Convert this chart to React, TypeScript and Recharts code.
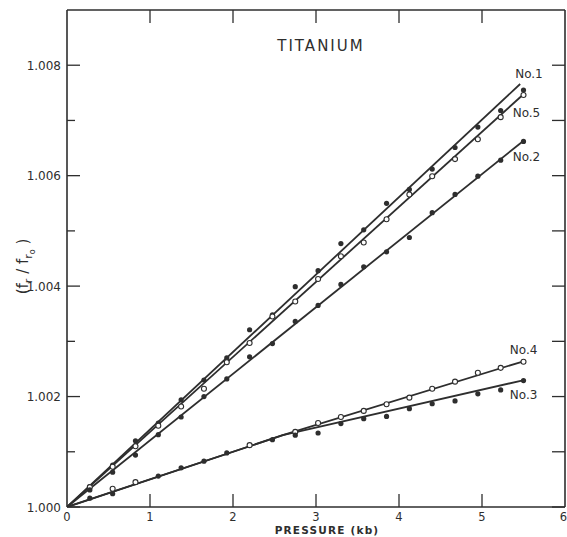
import React from 'react'
import { ComposedChart, Line, Scatter, XAxis, YAxis, LabelList } from 'recharts'

// pressure (kb) at which readings were taken
const pressure = [
  0.275, 0.55, 0.825, 1.1, 1.375, 1.65, 1.925, 2.2, 2.475, 2.75,
  3.025, 3.3, 3.575, 3.85, 4.125, 4.4, 4.675, 4.95, 5.225, 5.5,
]

// measured fr/fr0 for each specimen (null = no point drawn)
const no1Pts = [
  1.00037, 1.00076, 1.0012, 1.00152, 1.00194, 1.0023, 1.0027, 1.00321, 1.00348, 1.00399,
  1.00428, 1.00477, 1.00502, 1.0055, 1.00575, 1.00612, 1.00651, 1.00688, 1.00718, 1.00755,
]
const no5Pts = [
  1.00036, 1.00073, 1.0011, 1.00147, 1.00182, 1.00214, 1.00262, 1.00297, 1.00345, 1.00372,
  1.00413, 1.00454, 1.00479, 1.00521, 1.00566, 1.00599, 1.0063, 1.00666, 1.00706, 1.00746,
]
const no2Pts = [
  1.00031, 1.00063, 1.00094, 1.00131, 1.00163, 1.002, 1.00232, 1.00272, 1.00296, 1.00336,
  1.00365, 1.00403, 1.00435, 1.00462, 1.00488, 1.00533, 1.00566, 1.00599, 1.00628, 1.00662,
]
const no4Pts = [
  null, 1.00033, 1.00045, null, null, null, null, 1.00112, null, 1.00136,
  1.00152, 1.00163, 1.00174, 1.00186, 1.00198, 1.00214, 1.00227, 1.00243, 1.00252, 1.00263,
]
const no3Pts = [
  1.00016, 1.00024, null, 1.00056, 1.00071, 1.00083, 1.00098, null, 1.00122, 1.0013,
  1.00134, 1.00151, 1.0016, 1.00164, 1.00178, 1.00187, 1.00192, 1.00205, 1.00212, 1.00229,
]

// fitted lines
const no1Fit = [{ x: 0, y: 1.0 }, { x: 5.46, y: 1.00766 }]
const no5Fit = [{ x: 0, y: 1.0 }, { x: 5.49, y: 1.00746 }]
const no2Fit = [{ x: 0, y: 1.0 }, { x: 5.49, y: 1.00662 }]
const no4Fit = [{ x: 0, y: 1.0 }, { x: 2.6, y: 1.0013 }, { x: 5.48, y: 1.00263 }]
const no3Fit = [{ x: 0, y: 1.0 }, { x: 2.6, y: 1.0013 }, { x: 5.48, y: 1.00229 }]

const xTicks = [0, 1, 2, 3, 4, 5, 6]
const yTicks = [1.0, 1.001, 1.002, 1.003, 1.004, 1.005, 1.006, 1.007, 1.008]

const INK = '#2e2e2e'
const FONT = '"DejaVu Sans", sans-serif'

const toPoints = (vals: (number | null)[]) =>
  pressure.map((x, i) => ({ x, y: vals[i] })).filter(p => p.y !== null)

const FilledDot = (props: any) => <circle cx={props.cx} cy={props.cy} r={2.6} fill={INK} />
const OpenDot = (props: any) => (
  <circle cx={props.cx} cy={props.cy} r={2.5} fill="#fff" stroke={INK} strokeWidth={1.1} />
)

const isMajor = (v: number) => Math.round(v * 1000) % 2 === 0

const LeftTick = (props: any) => {
  const { x, y, payload } = props
  const v = payload.value
  return (
    <g>
      <line x1={x} y1={y} x2={x + (isMajor(v) ? 13 : 8)} y2={y} stroke={INK} strokeWidth={1.3} />
      {isMajor(v) && (
        <text x={x - 6} y={y + 4.5} textAnchor="end" fontSize={12} fontFamily={FONT} fill={INK}>
          {v.toFixed(3)}
        </text>
      )}
    </g>
  )
}

const RightTick = (props: any) => {
  const { x, y } = props
  return <line x1={x} y1={y} x2={x - 13} y2={y} stroke={INK} strokeWidth={1.3} />
}

const BottomTick = (props: any) => {
  const { x, y, payload } = props
  const v = payload.value
  const atEdge = v === 6
  return (
    <g>
      {v > 0 && v < 6 && <line x1={x} y1={y} x2={x} y2={y - 13} stroke={INK} strokeWidth={1.3} />}
      <text
        x={atEdge ? x + 2 : x}
        y={y + 14}
        textAnchor={atEdge ? 'end' : 'middle'}
        fontSize={11.5}
        fontFamily={FONT}
        fill={INK}
      >
        {v}
      </text>
    </g>
  )
}

const TopTick = (props: any) => {
  const { x, y, payload } = props
  const v = payload.value
  if (v <= 0 || v >= 6) return null
  return <line x1={x} y1={y} x2={x} y2={y + 13} stroke={INK} strokeWidth={1.3} />
}

const YLabel = (props: any) => {
  const { viewBox } = props
  const cx = viewBox.x + 28
  const cy = viewBox.y + viewBox.height / 2 + 8
  return (
    <text
      x={cx}
      y={cy}
      transform={`rotate(-90 ${cx} ${cy})`}
      textAnchor="middle"
      fontSize={15}
      fontFamily={FONT}
      fill={INK}
    >
      (f
      <tspan fontSize={11} dy={4}>r</tspan>
      <tspan dy={-4}> / f</tspan>
      <tspan fontSize={11} dy={4}>r</tspan>
      <tspan fontSize={8} dy={3}>o</tspan>
      <tspan dy={-7}> )</tspan>
    </text>
  )
}

const XLabel = (props: any) => {
  const { viewBox } = props
  return (
    <text
      x={viewBox.x + viewBox.width / 2 + 11}
      y={534}
      textAnchor="middle"
      fontSize={10.5}
      fontWeight="bold"
      letterSpacing={1.2}
      fontFamily={FONT}
      fill={INK}
    >
      PRESSURE (kb)
    </text>
  )
}

const Title = (props: any) => {
  const { viewBox } = props
  return (
    <text
      x={viewBox.x + viewBox.width / 2 + 5}
      y={viewBox.y + 42}
      textAnchor="middle"
      fontSize={15}
      letterSpacing={2}
      fontFamily={FONT}
      fill={INK}
    >
      TITANIUM
    </text>
  )
}

const endLabel = (name: string, last: number, dx: number, dy: number) => (props: any) => {
  if (props.index !== last) return null
  return (
    <text x={props.x + dx} y={props.y + dy} fontSize={12} fontFamily={FONT} fill={INK}>
      {name}
    </text>
  )
}

export default function App() {
  const lineProps = {
    type: 'linear' as const,
    dataKey: 'y',
    stroke: INK,
    strokeWidth: 1.8,
    dot: false,
    activeDot: false,
    isAnimationActive: false,
  }
  return (
    <div style={{ position: 'absolute', left: 0, top: 0, background: '#fff' }}>
      <ComposedChart width={567} height={537} margin={{ top: 9, right: 1, bottom: 0, left: 0 }}>
        <XAxis
          dataKey="x"
          type="number"
          domain={[0, 6]}
          ticks={xTicks}
          interval={0}
          allowDataOverflow
          height={30}
          tickSize={0}
          tickMargin={0}
          tickLine={false}
          axisLine={{ stroke: INK, strokeWidth: 1.6 }}
          tick={<BottomTick />}
          label={<XLabel />}
        />
        <XAxis
          xAxisId="top"
          dataKey="x"
          orientation="top"
          type="number"
          domain={[0, 6]}
          ticks={xTicks}
          interval={0}
          allowDataOverflow
          height={1}
          tickSize={0}
          tickMargin={0}
          tickLine={false}
          axisLine={{ stroke: INK, strokeWidth: 1.6 }}
          tick={<TopTick />}
          label={<Title />}
        />
        <YAxis
          dataKey="y"
          type="number"
          domain={[1.0, 1.009]}
          ticks={yTicks}
          interval={0}
          allowDataOverflow
          width={67}
          tickSize={0}
          tickMargin={0}
          tickLine={false}
          axisLine={{ stroke: INK, strokeWidth: 1.6 }}
          tick={<LeftTick />}
          label={<YLabel />}
        />
        <YAxis
          yAxisId="right"
          dataKey="y"
          orientation="right"
          type="number"
          domain={[1.0, 1.009]}
          ticks={yTicks}
          interval={0}
          allowDataOverflow
          width={1}
          tickSize={0}
          tickMargin={0}
          tickLine={false}
          axisLine={{ stroke: INK, strokeWidth: 1.6 }}
          tick={<RightTick />}
        />

        <Line {...lineProps} data={no1Fit}>
          <LabelList dataKey="y" content={endLabel('No.1', no1Fit.length - 1, -5, -5.5)} />
        </Line>
        <Line {...lineProps} data={no5Fit}>
          <LabelList dataKey="y" content={endLabel('No.5', no5Fit.length - 1, -10, 21.5)} />
        </Line>
        <Line {...lineProps} data={no2Fit}>
          <LabelList dataKey="y" content={endLabel('No.2', no2Fit.length - 1, -10, 19.5)} />
        </Line>
        <Line {...lineProps} data={no4Fit}>
          <LabelList dataKey="y" content={endLabel('No.4', no4Fit.length - 1, -12, -7.5)} />
        </Line>
        {/* same domains on both axis pairs, so this one also anchors the top/right frame */}
        <Line {...lineProps} data={no3Fit} xAxisId="top" yAxisId="right">
          <LabelList dataKey="y" content={endLabel('No.3', no3Fit.length - 1, -12, 18.5)} />
        </Line>

        <Scatter data={toPoints(no1Pts)} shape={FilledDot} isAnimationActive={false} />
        <Scatter data={toPoints(no5Pts)} shape={OpenDot} isAnimationActive={false} />
        <Scatter data={toPoints(no2Pts)} shape={FilledDot} isAnimationActive={false} />
        <Scatter data={toPoints(no4Pts)} shape={OpenDot} isAnimationActive={false} />
        <Scatter data={toPoints(no3Pts)} shape={FilledDot} isAnimationActive={false} />
      </ComposedChart>
    </div>
  )
}
